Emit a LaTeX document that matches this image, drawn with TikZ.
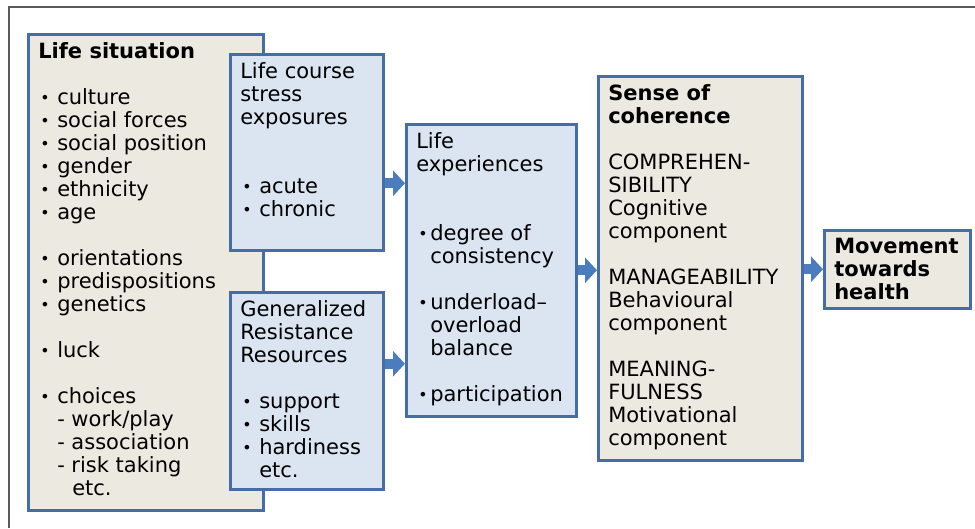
\documentclass[tikz,border=0pt]{standalone}
\usepackage{fontspec}
\setmainfont{DejaVu Sans}
\usepackage{tikz}
\usetikzlibrary{positioning, arrows.meta, calc}
\usepackage{xcolor}
\usepackage{graphicx}

\definecolor{boxline}{RGB}{68,110,165}
\definecolor{beige}{RGB}{236,233,225}
\definecolor{paleblue}{RGB}{219,229,241}
\definecolor{arrowblue}{RGB}{74,124,190}

\newcommand{\bul}[2][16pt]{\makebox[#1][l]{\hspace{2pt}\raisebox{1pt}{\scalebox{0.75}{\textbullet}}}#2}
\newcommand{\blank}{\\[23pt]}
\newcommand{\blanktwo}{\\[46pt]}

\tikzset{
  panel/.style={draw=boxline, line width=2.5pt, anchor=north west, inner xsep=10pt, inner ysep=8pt, font=\fontsize{21}{23}\selectfont},
  situbox/.style={panel, fill=beige},
  stressbox/.style={panel, fill=paleblue},
  flow/.style={arrowblue, line width=10pt, -{Triangle[width=25pt,length=12pt]}}
}

\begin{document}
\begin{tikzpicture}[x=1pt,y=-1pt]
        \useasboundingbox (0,0) rectangle (975,528);

        %frame
        \draw[gray!70!black, line width=1.5pt] (9,528) -- (9,7) -- (975,7);

        %nodes
        \node[situbox] (situ) at (27,33) {\parbox[t][460pt][t]{215pt}{\raggedright
            \textbf{Life situation}\blank
            \bul[19pt]{culture}\\
            \bul[19pt]{social forces}\\
            \bul[19pt]{social position}\\
            \bul[19pt]{gender}\\
            \bul[19pt]{ethnicity}\\
            \bul[19pt]{age}\blank
            \bul[19pt]{orientations}\\
            \bul[19pt]{predispositions}\\
            \bul[19pt]{genetics}\blank
            \bul[19pt]{luck}\blank
            \bul[19pt]{choices}\\
            \hspace*{19pt}- work/play\\
            \hspace*{19pt}- association\\
            \hspace*{19pt}- risk taking\\
            \hspace*{34pt}etc.}};

        \node[stressbox] (course) at (229,53) {\parbox[t][180pt][t]{133pt}{\raggedright
            Life course\\
            stress\\
            exposures\blanktwo
            \bul[19pt]{acute}\\
            \bul[19pt]{chronic}}};

        \node[stressbox] (grr) at (229,291) {\parbox[t][181pt][t]{133pt}{\raggedright
            Generalized\\
            Resistance\\
            Resources\blank
            \bul[19pt]{support}\\
            \bul[19pt]{skills}\\
            \bul[19pt]{hardiness}\\
            \hspace*{19pt}etc.}};

        \node[stressbox] (exper) at (405,123) {\parbox[t][276pt][t]{150pt}{\raggedright
            Life\\
            experiences\blanktwo
            \bul[14pt]{degree of}\\
            \hspace*{14pt}consistency\blank
            \bul[14pt]{underload--}\\
            \hspace*{14pt}overload\\
            \hspace*{14pt}balance\blank
            \bul[14pt]{participation}}};

        \node[situbox] (soc) at (597,75) {\parbox[t][368pt][t]{184pt}{\raggedright
            \textbf{Sense of}\\
            \textbf{coherence}\blank
            COMPREHEN-\\
            SIBILITY\\
            Cognitive\\
            component\blank
            MANAGEABILITY\\
            Behavioural\\
            component\blank
            MEANING-\\
            FULNESS\\
            Motivational\\
            component}};

        \node[situbox] (health) at (823,229) {\parbox[t][62pt][t]{126pt}{\raggedright
            \textbf{Movement}\\
            \textbf{towards}\\
            \textbf{health}}};

        %edges
        \coordinate (c1) at ([yshift=-31pt]course.east);
        \coordinate (c2) at ([yshift=27pt]grr.east);
        \draw[flow] (c1) -- (c1 -| exper.west);
        \draw[flow] (c2) -- (c2 -| exper.west);
        \draw[flow] (exper.east) -- (exper.east -| soc.west);
        \draw[flow] (soc.east |- health.west) -- (health.west);
\end{tikzpicture}
\end{document}
